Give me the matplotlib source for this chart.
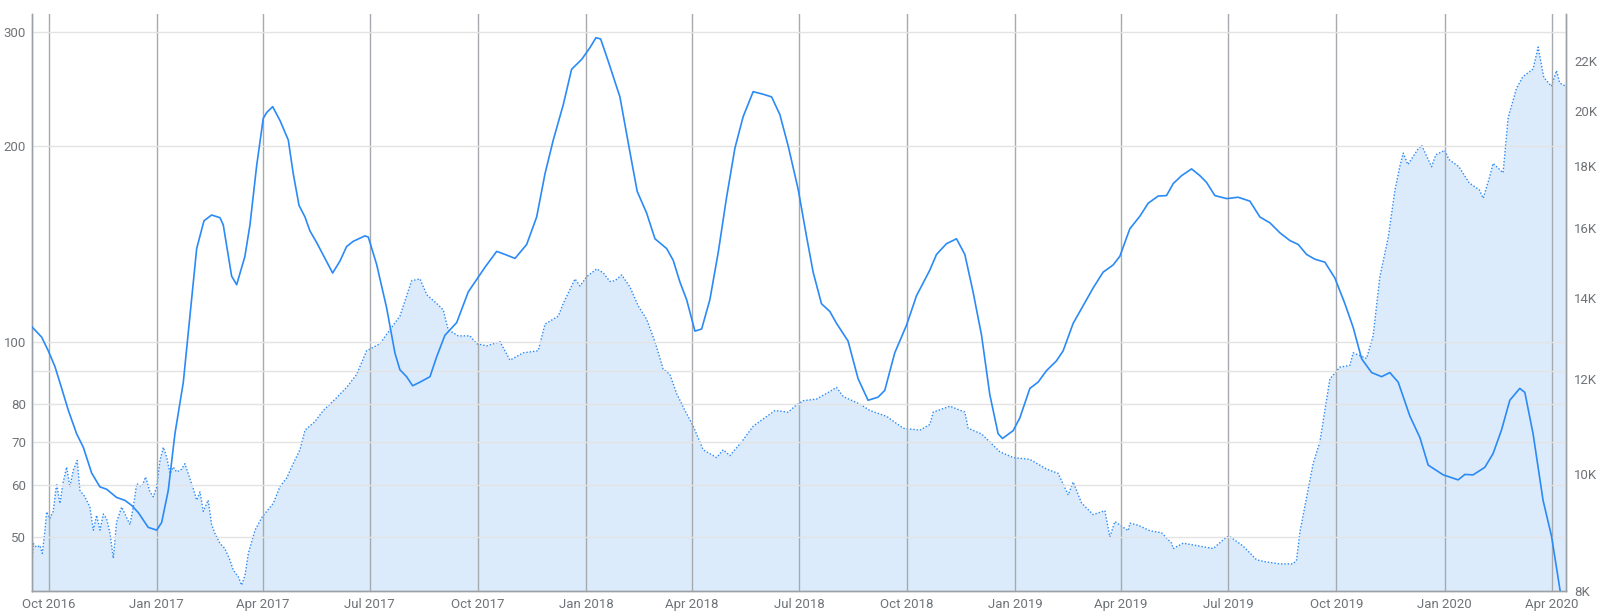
import matplotlib
matplotlib.use("Agg")
import matplotlib.pyplot as plt
import matplotlib.dates as mdates
import matplotlib.ticker as mticker
import pandas as pd

plt.rcParams['font.family'] = ['Roboto', 'DejaVu Sans']

start_date = "2016-09-17"

# Solid series (left log axis): day offsets from start_date and values
solid_days = [0, 8.1, 13.7, 19.4, 25.1, 30.7, 37.8, 43.5, 50.6, 57.6, 63.3, 71.8, 78.9, 84.6, 90.2,
              98.7, 105.9, 110.1, 115.7, 121.4, 128.5, 134.2, 139.9, 146.1, 152.6, 159.7, 162.5,
              169.6, 173.9, 180.9, 185.2, 190.9, 196.5, 199.4, 204.5, 210.7, 217.8, 222, 226.9,
              232, 236.2, 241.9, 249, 255.5, 261.7, 267.4, 273, 283, 285.8, 292.9, 301.4, 308.5,
              312.7, 318.4, 323.5, 329.8, 338.3, 344, 351, 361, 370.8, 385, 395, 402.1, 410.6,
              420.5, 429, 436.1, 443.1, 451.6, 458.7, 467.3, 474.3, 479.4, 483.4, 489.9, 499.8,
              508.3, 514.5, 522.5, 529.6, 539.5, 545.1, 550.8, 556.5, 563.6, 569.3, 576.3, 583.4,
              590.5, 597.6, 604.6, 613.1, 621.6, 628.8, 635.8, 642.9, 651.4, 658.5, 664.1, 671.2,
              678.3, 684, 693.8, 702.3, 710.8, 719.3, 725, 733.5, 743.5, 752, 763.3, 769, 777.5,
              786, 793.1, 800.1, 807.3, 814.3, 821.4, 825.1, 834.2, 839.9, 848.4, 855.4, 862.5,
              871, 876.7, 885.2, 893.7, 902.2, 910.7, 919.2, 924.9, 933.4, 941.9, 949, 957.5,
              964.6, 970.3, 977.4, 985.9, 993, 998.6, 1005.7, 1015.7, 1025.5, 1035.5, 1044,
              1052.5, 1061, 1069.5, 1076.6, 1083.7, 1090.8, 1099.3, 1107.8, 1116.3, 1123.3,
              1130.5, 1139, 1147.5, 1154.5, 1161.6, 1171.5, 1180.1, 1187.1, 1199.9, 1212.6,
              1218.3, 1225.3, 1235.3, 1242.3, 1249.5, 1256.5, 1265, 1269.3, 1276.3, 1284.8,
              1292, 1300.5]
solid_vals = [105.3, 101.6, 96.8, 91.5, 84.7, 78.4, 72.1, 68.7, 62.7, 59.7, 59.2, 57.5, 56.9, 55.9,
              54.5, 51.7, 51.2, 52.6, 58.9, 72.1, 86.5, 109.7, 139.2, 153.6, 156.8, 155.3, 151.4,
              126.2, 122.4, 135.4, 151.4, 186.8, 221, 225.6, 230.4, 219.4, 204.6, 181.6, 162.3,
              155.7, 148.2, 142.2, 134.4, 127.6, 133.1, 140.2, 142.8, 145.6, 145, 131.6, 112.8, 96,
              90.5, 88.3, 85.5, 86.6, 88.3, 94.8, 102.3, 107, 119.3, 130.2, 137.8, 136.3, 134.4,
              141.2, 155.7, 181.6, 204.6, 231.9, 263.1, 272.5, 284.1, 294.3, 293, 270.6, 238.5,
              196.1, 170.5, 157.9, 144.1, 139.2, 133.5, 123.6, 116.1, 103.8, 104.6, 116.1, 137.3,
              167, 198.9, 222.4, 243, 240.8, 238.5, 224, 200.3, 171.7, 145.2, 128, 114.4,
              111.3, 106.7, 100.2, 87.7, 81.2, 82.1, 84.1, 96.1, 106, 117.7, 128.9, 136.3, 141.6,
              144.1, 136.3, 119.3, 102.3, 82.9, 72.1, 70.9, 72.9, 76.3, 84.7, 86.6, 90.2,
              93.4, 96.8, 106.7, 113.6, 121, 128, 131.3, 135.4, 149.3, 156.1, 163.5, 167.7,
              168, 175.3, 180.3, 184.7, 180.3, 176.1, 168, 166.2, 167, 164.7, 155.7,
              152.5, 147.2, 143.2, 141.2, 136.3, 134, 132.6, 125.3, 114.4, 105.2,
              94.1, 89.6, 88.3, 89.6, 86.6, 76.8, 71.1, 64.5, 62.3, 61.2,
              62.4, 62.3, 64, 67.2, 73.1, 81.2, 84.7, 83.5, 72.1, 56.9,
              50.1, 40]

# Dotted / filled series (right log axis)
dotted_days = [0, 0.9, 3.8, 6.6, 8.6, 10.9, 12.3, 15.1, 17.9, 20.8, 23.6, 26.4, 29.3, 32.1, 34.9,
               38.3, 40.6, 44.9, 49.1, 52, 54.8, 57.7, 60.5, 63.3, 66.2, 69, 71.8, 76.1, 78.9,
               83.2, 86, 88.9, 93.1, 96.5, 100.2, 103, 105.9, 108.7, 111.5, 114.4, 117.2, 120,
               122.9, 127.1, 129.9, 132.7, 137, 139.9, 142.7, 145.5, 149.7, 152.6, 155.4, 159.7,
               163.9, 168.2, 171, 175.3, 178.1, 181, 183.8, 189.5, 195.7, 205, 210.7, 216.4, 222,
               227.7, 232, 240.5, 247.5, 257.5, 267.4, 275.9, 284.4, 295.7, 301.4, 312.7, 322.7,
               329.8, 335.5, 344, 349.6, 353.8, 362.3, 372.3, 378, 386.5, 397.8, 406.3, 417.6,
               430.3, 436.1, 447.4, 451.6, 461.6, 465.8, 471.5, 480, 485.6, 491.3, 495.6, 501.3,
               508.3, 515.4, 522.5, 529.6, 536.6, 542.3, 548, 555.1, 562.1, 570.6, 582, 587.6,
               593.3, 603.3, 613.2, 621.6, 631.6, 642.9, 648.6, 655.7, 667, 675.5, 684, 689.7,
               703.9, 712.4, 726.6, 740.7, 754.9, 763.4, 766.2, 780.4, 793.1, 795.9, 807.4,
               822.9, 834.2, 848.4, 862.6, 872.4, 881, 885.2, 892.3, 902.2, 912.2, 916.4, 920.7,
               932, 933.5, 940.5, 950.5, 960.4, 968.9, 970.3, 978.8, 987.3, 993, 1004.3, 1015.7,
               1018.5, 1029.8, 1041.2, 1049.7, 1061, 1072.3, 1075.2, 1078, 1089.3, 1095, 1103.5,
               1112, 1120.5, 1123.3, 1134.7, 1140.3, 1146, 1153.1, 1158.8, 1163, 1165.9, 1169.8,
               1178.3, 1181.5, 1190, 1193.6, 1201.3, 1204.7, 1213.2, 1222, 1230.7, 1233.9, 1239.4,
               1242.3, 1250.8, 1255.1, 1262.2, 1267.8, 1276.3, 1280.6, 1285.4, 1291.9, 1296.2,
               1299, 1304.2]
dotted_vals = [8490, 8765, 8700, 8730, 8600, 8990, 9310, 9190, 9320, 9825, 9460, 9855, 10140, 9765,
               10075, 10270, 9700, 9580, 9395, 8990, 9250, 8990, 9270, 9190, 8935, 8520, 9130,
               9395, 9270, 9085, 9395, 9825, 9765, 9950, 9670, 9580, 9765, 10270, 10530, 10335,
               10015, 10140, 10045, 10100, 10205, 10015, 9730, 9520, 9670, 9320, 9520, 9085, 8935,
               8765, 8680, 8490, 8330, 8225, 8095, 8250, 8600, 8990, 9225, 9460, 9770, 9930,
               10210, 10480, 10880, 11060, 11295, 11540, 11805, 12100, 12660, 12830, 13065, 13525,
               14470, 14520, 14090, 13855, 13685, 13175, 13025, 13025, 12830, 12780, 12880, 12435,
               12610, 12660, 13320, 13525, 13855, 14520, 14325, 14580, 14800, 14690, 14450, 14470,
               14630, 14300, 13790, 13445, 12880, 12225, 12100, 11670, 11295, 10965, 10480, 10325,
               10480, 10365, 10640, 10965, 11115, 11295, 11260, 11390, 11510, 11545, 11670, 11805,
               11600, 11435, 11295, 11170, 10920, 10880, 11000, 11260, 11390, 11260, 10920,
               10800, 10440, 10325, 10290, 10100, 10020, 9615, 9855, 9470, 9260, 9330, 8875,
               9140, 8980, 9110, 9075, 8980, 8945, 8770, 8680, 8770, 8740, 8720, 8680, 8875,
               8880, 8720, 8495, 8460, 8430, 8430, 8495, 8955, 10210, 10640, 11995,
               12270, 12310, 12610, 12475, 13025, 14580, 15710, 17190, 18000, 18460, 18060,
               18590, 18740, 17985, 18400, 18560, 18235, 17990, 17440, 17205, 16935, 17645,
               18100, 17780, 19750, 20890, 21365, 21670, 22600, 21335, 20970, 21605,
               21100, 20970]

left_ticks = [50, 60, 70, 80, 90, 100, 200, 300]
left_labels = ["50", "60", "70", "80", "", "100", "200", "300"]
right_ticks = [8000, 10000, 12000, 14000, 16000, 18000, 20000, 22000]
right_labels = ["8K", "10K", "12K", "14K", "16K", "18K", "20K", "22K"]

t0 = pd.Timestamp(start_date)
solid_dates = t0 + pd.to_timedelta(solid_days, unit="D")
dotted_dates = t0 + pd.to_timedelta(dotted_days, unit="D")

line_color = "#2a8af6"
fill_color = "#dcebfb"
text_color = "#6f7378"
spine_color = "#9aa0a6"

fig = plt.figure(figsize=(16, 6.15), dpi=100)
ax = fig.add_axes([0.01981, 0.03854, 0.95894, 0.93902])
ax2 = ax.twinx()

# dotted + fill on right axis (behind)
ax2.fill_between(dotted_dates, dotted_vals, 1, color=fill_color, linewidth=0, zorder=1)
ax2.plot(dotted_dates, dotted_vals, color=line_color, linewidth=1.0,
         linestyle=(0, (1, 1.4)), zorder=2)
ax2.set_yscale("log")
ax2.set_ylim(8000, 24080)
ax2.yaxis.set_major_locator(mticker.FixedLocator(right_ticks))
ax2.yaxis.set_major_formatter(mticker.FixedFormatter(right_labels))
ax2.yaxis.set_minor_locator(mticker.NullLocator())

# solid on left axis (front)
ax.set_zorder(ax2.get_zorder() + 1)
ax.patch.set_visible(False)
ax.plot(solid_dates, solid_vals, color=line_color, linewidth=1.2, zorder=3)
ax.set_yscale("log")
ax.set_ylim(41.2, 320.4)
ax.yaxis.set_major_locator(mticker.FixedLocator(left_ticks))
ax.yaxis.set_major_formatter(mticker.FixedFormatter(left_labels))
ax.yaxis.set_minor_locator(mticker.NullLocator())

x0 = t0 + pd.Timedelta(days=-0.4)
x1 = t0 + pd.Timedelta(days=1304.3)
ax.set_xlim(x0, x1)
ax.xaxis.set_major_locator(mdates.MonthLocator(bymonth=[1, 4, 7, 10]))
ax.xaxis.set_major_formatter(mdates.DateFormatter("%b %Y"))

ax.grid(True, axis="y", color="#e3e3e3", linewidth=1.0, zorder=0)
ax.grid(True, axis="x", color="#a6a9ad", linewidth=1.0, zorder=0)
ax.set_axisbelow(True)

for a in (ax, ax2):
    a.tick_params(length=0, colors=text_color, labelsize=9.5)
    a.spines["top"].set_visible(False)
    for s in ("left", "right", "bottom"):
        a.spines[s].set_color(spine_color)
        a.spines[s].set_linewidth(1.0)
ax.tick_params(axis="y", pad=4)
ax.tick_params(axis="x", pad=5)
ax2.tick_params(axis="y", pad=6)

fig.savefig("out.png", dpi=100)
